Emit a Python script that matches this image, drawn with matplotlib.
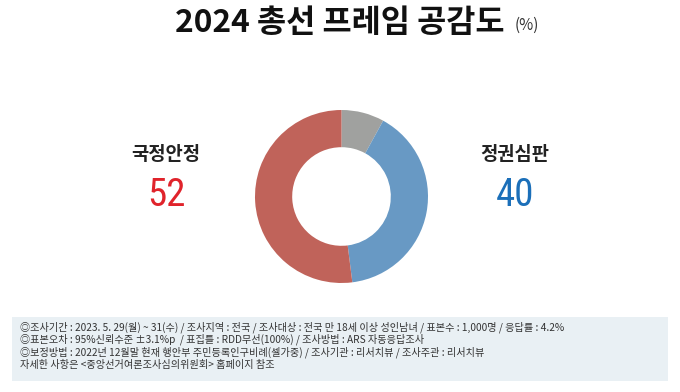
import matplotlib.pyplot as plt
from matplotlib.patches import Rectangle

plt.rcParams['font.family'] = ['Noto Sans CJK KR', 'DejaVu Sans']

# data
labels = ["기타", "정권심판", "국정안정"]
values = [8, 40, 52]
colors = ["#a0a19f", "#6899c4", "#c0635a"]

left_name, left_value = "국정안정", 52
right_name, right_value = "정권심판", 40

notes = [
    "◎조사기간 : 2023. 5. 29(월) ~ 31(수) / 조사지역 : 전국 / 조사대상 : 전국 만 18세 이상 성인남녀 / 표본수 : 1,000명 / 응답률 : 4.2%",
    "◎표본오차 : 95%신뢰수준 ±3.1%p  / 표집틀 : RDD무선(100%) / 조사방법 : ARS 자동응답조사",
    "◎보정방법 : 2022년 12월말 현재 행안부 주민등록인구비례(셀가중) / 조사기관 : 리서치뷰 / 조사주관 : 리서치뷰",
    "자세한 사항은 <중앙선거여론조사심의위원회> 홈페이지 참조",
]

W, H = 680, 392
fig = plt.figure(figsize=(6.8, 3.92), dpi=100)
fig.patch.set_facecolor("white")

# donut
cx, cy, r = 341.5, 196.5, 86.5
ax = fig.add_axes([(cx - r) / W, 1 - (cy + r) / H, 2 * r / W, 2 * r / H])
ax.pie(values, colors=colors, startangle=90, counterclock=False,
       wedgeprops=dict(width=0.43, edgecolor="none"))
ax.set_xlim(-1, 1)
ax.set_ylim(-1, 1)
ax.set_aspect("equal")
ax.axis("off")

# title
fig.text(340 / W, 1 - 23 / H, "2024 총선 프레임 공감도", ha="center", va="center",
         fontsize=22.8, fontweight="heavy", color="#111111")
fig.text(527 / W, 1 - 25 / H, "(%)", ha="center", va="center",
         fontsize=11, color="#333333")

# side labels
num_font = ["Roboto Condensed", "Roboto", "DejaVu Sans"]
fig.text(166 / W, 1 - 155 / H, left_name, ha="center", va="center",
         fontsize=13.5, fontweight="bold", color="#222222")
fig.text(166 / W, 1 - 196 / H, str(left_value), ha="center", va="center",
         fontsize=28, color="#e0232b", family=num_font)
fig.text(515 / W, 1 - 155 / H, right_name, ha="center", va="center",
         fontsize=13.5, fontweight="bold", color="#222222")
fig.text(515 / W, 1 - 196 / H, str(right_value), ha="center", va="center",
         fontsize=28, color="#1b6fb9", family=num_font)

# footer box
fig.patches.append(Rectangle((12 / W, 1 - 381 / H), 656 / W, 64 / H,
                             transform=fig.transFigure, facecolor="#e9f0f4",
                             edgecolor="none", zorder=0))
for i, line in enumerate(notes):
    fig.text(20 / W, 1 - (327 + i * 12.7) / H, line, ha="left", va="center",
             fontsize=7.3, color="#333333")

fig.savefig("out.png", dpi=100)
